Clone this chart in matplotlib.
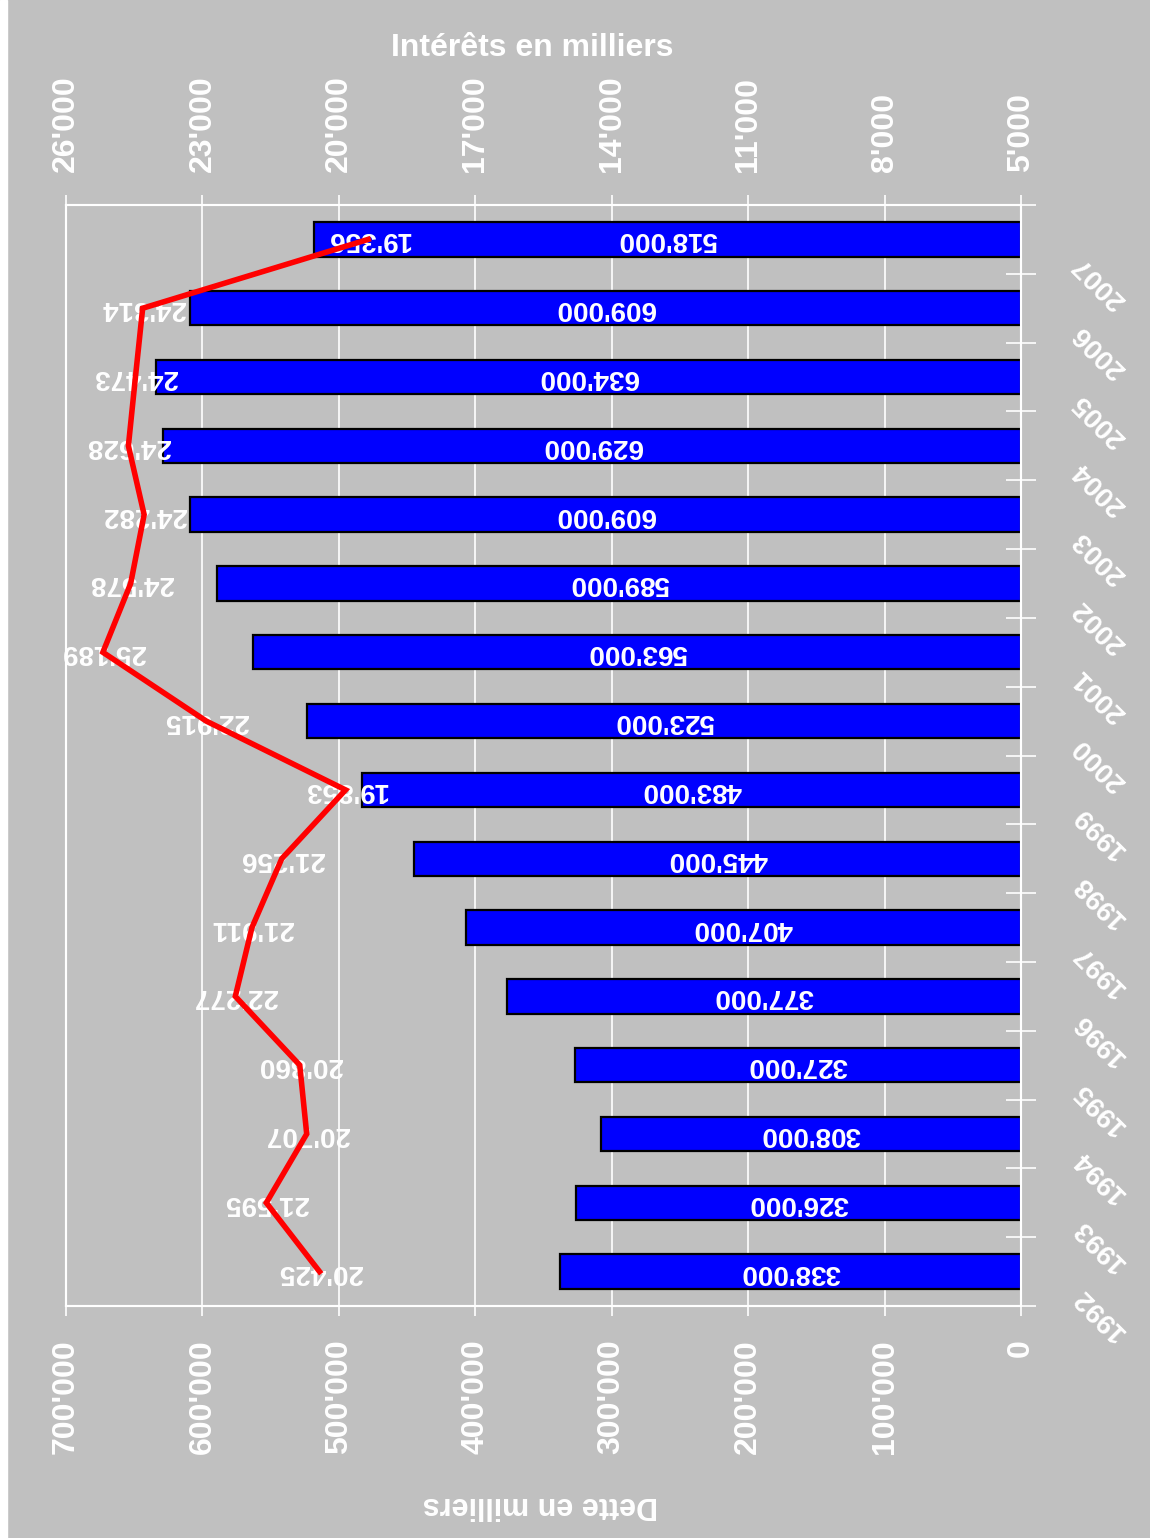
import matplotlib
matplotlib.use('Agg')
import matplotlib.pyplot as plt
import matplotlib.transforms as mtransforms
from matplotlib.patches import Rectangle
import numpy as np

plt.rcParams['font.family'] = ['Liberation Sans', 'DejaVu Sans']
plt.rcParams['font.weight'] = 'bold'

years = ['1992', '1993', '1994', '1995', '1996', '1997', '1998', '1999',
         '2000', '2001', '2002', '2003', '2004', '2005', '2006', '2007']
debt = [338000, 326000, 308000, 327000, 377000, 407000, 445000, 483000,
        523000, 563000, 589000, 609000, 629000, 634000, 609000, 518000]
interest = [20425, 21595, 20707, 20860, 22277, 21911, 21256, 19853,
            22915, 25189, 24578, 24282, 24628, 24473, 24314, 19356]
debt_ticks = [0, 100000, 200000, 300000, 400000, 500000, 600000, 700000]
interest_ticks = [5000, 8000, 11000, 14000, 17000, 20000, 23000, 26000]
debt_label = 'Dette en milliers'
interest_label = 'Intérêts en milliers'


def fmt(v):
    return f"{int(v):,}".replace(',', "'")


BG = '#c0c0c0'
W, H = 1150, 1538
fig = plt.figure(figsize=(W / 100, H / 100), dpi=100, facecolor=BG)
fig.patches.append(Rectangle((0, 0), 7 / W, 1, transform=fig.transFigure,
                             color='white', zorder=0))

left, right, top, bottom = 66, 1021, 205, 1306
ax = fig.add_axes([left / W, 1 - bottom / H, (right - left) / W, (bottom - top) / H])
ax.set_facecolor(BG)

y = np.arange(len(years))
ax.barh(y, debt, height=0.5, color='#0000ff', edgecolor='black', linewidth=1.6, zorder=3)
ax.set_xlim(700000, 0)
ax.set_ylim(-0.5, len(years) - 0.5)

ax.set_xticks(debt_ticks)
ax.set_xticklabels([fmt(v) for v in debt_ticks], rotation=90, va='top', ha='center')
ax.grid(axis='x', color='white', linewidth=1.2, zorder=1)
ax.set_axisbelow(True)
ax.set_yticks(np.arange(-0.5, len(years), 1))
ax.set_yticklabels([])
ax.yaxis.tick_right()
ax.tick_params(axis='y', direction='inout', length=22, color='white', width=1.2)
ax.tick_params(axis='x', direction='out', length=7, color='white', width=1.2,
               labelcolor='white', labelsize=23, pad=17)
for s in ax.spines.values():
    s.set_color('white')
    s.set_linewidth(1.5)

for i, d in enumerate(debt):
    ax.text(d / 2, i, fmt(d), rotation=180, ha='center', va='center',
            color='white', fontsize=20, fontweight='bold', zorder=5)

trans = mtransforms.blended_transform_factory(ax.transAxes, ax.transData)
for i, yr in enumerate(years):
    ax.text(1.082, i - 0.62, yr, transform=trans, rotation=135,
            rotation_mode='anchor', ha='center', va='center',
            color='white', fontsize=20, fontweight='bold', clip_on=False)

ax2 = ax.twiny()
ax2.set_xlim(26000, 5000)
ax2.set_xticks(interest_ticks)
ax2.set_xticklabels([fmt(v) for v in interest_ticks], rotation=90, va='bottom', ha='center')
ax2.tick_params(axis='x', direction='out', length=7, color='white', width=1.2,
                labelcolor='white', labelsize=23, pad=17)
for s in ax2.spines.values():
    s.set_color('white')
    s.set_linewidth(1.5)

for i, v in enumerate(interest):
    ax2.text(v, i, fmt(v), rotation=180, ha='center', va='center',
             color='white', fontsize=20, fontweight='bold', zorder=3)
ax2.plot(interest, y, color='#ff0000', linewidth=4, zorder=4, solid_joinstyle='miter')

fig.text(532 / W, 1 - 48 / H, interest_label, ha='center', va='center',
         color='white', fontsize=23, fontweight='bold',
         family=['Liberation Sans Narrow', 'Liberation Sans', 'DejaVu Sans'])
fig.text(540 / W, 1 - 1505 / H, debt_label, ha='center', va='center', rotation=180,
         color='white', fontsize=22, fontweight='bold')

fig.savefig('out.png', dpi=100, facecolor=BG)
